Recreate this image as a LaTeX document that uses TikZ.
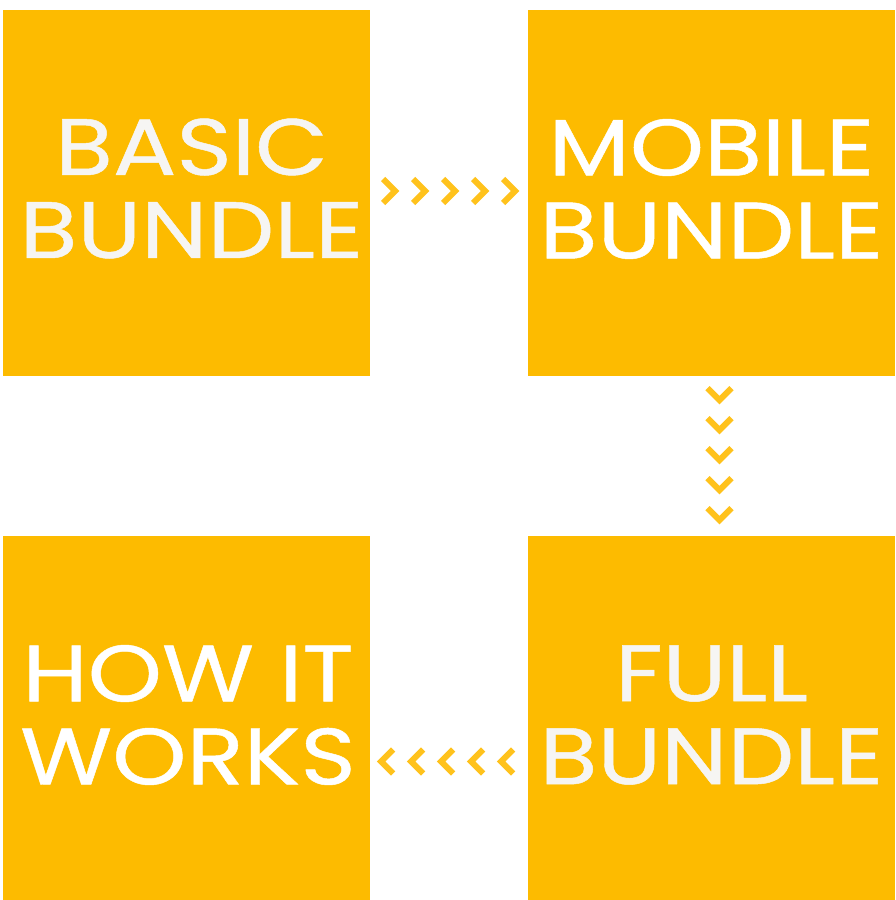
\documentclass[tikz,border=0pt]{standalone}
\usepackage{fontspec}
\setmainfont{Poppins}[FakeStretch=1.18,FakeBold=0.6]
\usetikzlibrary{calc}
\definecolor{boxc}{HTML}{FDBB00}
\definecolor{chev}{HTML}{FFC21C}
\definecolor{txt}{HTML}{F6F5F3}
\begin{document}
\begin{tikzpicture}[x=1pt,y=-1pt,
  bundle/.style={rectangle,fill=boxc,inner sep=0pt,minimum width=367pt,minimum height=366pt},
  label/.style={inner sep=0pt,text=txt,align=center,font=\fontsize{80}{83}\selectfont},
  chevron/.style={draw=chev,line width=6pt,line join=miter,line cap=butt}]
\useasboundingbox (0,0) rectangle (895,900);
\node[bundle] (basic)  at (186.5,193) {};
\node[bundle] (mobile) at (711.5,193) {};
\node[bundle,minimum height=364pt] (how)  at (186.5,718) {};
\node[bundle,minimum height=364pt] (full) at (711.5,718) {};
\node[label] (basic-t)  at ($(basic.center)+(5,-4.5)$) {BASIC\\BUNDLE};
\node[label,text=white] (mobile-t) at ($(mobile.center)+(0,-4)$) {MOBILE\\BUNDLE};
\node[label,text=white] (how-t)    at ($(how.center)+(1.5,-3)$) {HOW IT\\WORKS};
\node[label] (full-t)   at ($(full.center)+(0,-3)$) {FULL\\BUNDLE};
% basic -> mobile
\foreach \i in {0,...,4}{
  \draw[chevron] ($(basic.east)+(13+30*\i,-14)$) -- ++(12,12) -- ++(-12,12);
}
% mobile -> full
\foreach \i in {0,...,4}{
  \draw[chevron] ($(mobile.south)+(-4,12+30*\i)$) -- ++(12,12) -- ++(12,-12);
}
% full -> how
\foreach \i in {0,...,4}{
  \draw[chevron] ($(how.east)+(23+30*\i,31.5)$) -- ++(-12,12) -- ++(12,12);
}
\end{tikzpicture}
\end{document}
